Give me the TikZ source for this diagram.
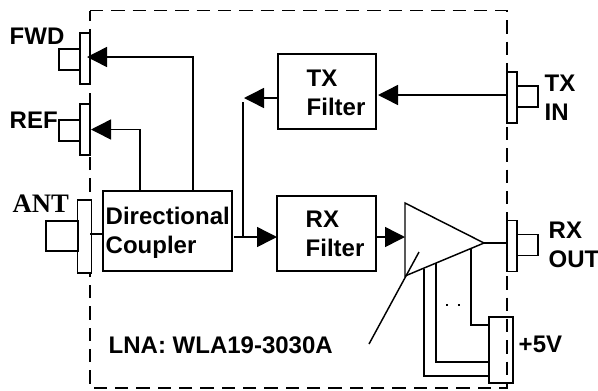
\documentclass[tikz,border=0pt]{standalone}
\usepackage{fontspec}
\setmainfont{Liberation Sans}
\newfontfamily\antfont{Liberation Serif}
\usetikzlibrary{arrows.meta}
\tikzset{
    block/.style 2 args={draw, line width=1.1pt, minimum width=#1*0.75pt, minimum height=#2*0.75pt, inner sep=0pt, outer sep=0pt},
    lbl/.style={font=\fontsize{18}{21.5}\selectfont\bfseries, align=left, anchor=west, inner sep=0pt},
    tip/.style={-{Triangle[length=15pt,width=15pt]}}
}
\begin{document}
\begin{tikzpicture}[x=0.75pt,y=-0.75pt,line width=1.1pt]
                    \useasboundingbox (0,0) rectangle (598,390);
                    \draw[dash pattern=on 10pt off 6pt] (90,10.5) -- (507,10.5) -- (507,388) -- (90,388) -- cycle;
                    \node[block={10}{51}] (fwdplate) at (85,58.5) {};
                    \node[block={21}{21}] (fwdnub) at (69.5,59.5) {};
                    \node[block={10}{51}] (refplate) at (85,129.5) {};
                    \node[block={21}{21}] (refnub) at (69.5,130.5) {};
                    \node[block={13.5}{73}, fill=white] (antplate) at (84.5,236.5) {};
                    \node[block={32}{30}] (antnub) at (62,236) {};
                    \node[block={10}{51}] (txplate) at (512,97.5) {};
                    \node[block={21}{21}] (txnub) at (527.5,96.5) {};
                    \node[block={10}{51}] (rxplate) at (512,246) {};
                    \node[block={21}{21}] (rxnub) at (527.5,245) {};
                    \node[block={129}{80}] (coupler) at (167.5,231) {};
                    \node[block={98}{75}] (txfilter) at (327,91.5) {};
                    \node[block={99}{75}] (rxfilter) at (326.5,233.5) {};
                    \node[block={24}{66}] (supply) at (501,350) {};
                    \coordinate (ampa) at (405,203);
                    \coordinate (ampb) at (405,276);
                    \coordinate (amptip) at (484,243);
                    \draw (ampa) -- (ampb) -- (amptip) -- cycle;
                    \coordinate (fwdtip) at (87,57);
                    \coordinate (fwdup) at (193,191);
                    \coordinate (reftip) at (91,129.5);
                    \coordinate (refup) at (140,191);
                    \coordinate (antin) at (90,234);
                    \coordinate (couplerout) at (234,237);
                    \coordinate (rxin) at (277,237);
                    \coordinate (branch) at (243,237);
                    \coordinate (branchtop) at (243,102);
                    \coordinate (txtip) at (244,98);
                    \coordinate (txfrom) at (277,98);
                    \coordinate (txin) at (507,95);
                    \coordinate (txfiltertip) at (378,95);
                    \coordinate (rxfrom) at (376,237);
                    \coordinate (ampin) at (405,237);
                    \coordinate (rxout) at (507,243);
                    \coordinate (slanta) at (369,344);
                    \coordinate (slantb) at (419,252);
                    \coordinate (biasa) at (424,269);
                    \coordinate (biasb) at (436,263);
                    \coordinate (biasc) at (471,248);
                    \coordinate (biasaend) at (489,376);
                    \coordinate (biasbend) at (489,362);
                    \coordinate (biascend) at (489,325);
                    \coordinate (dotsa) at (446,305);
                    \coordinate (dotsb) at (471,305);
                    \draw[tip] (fwdup) |- (fwdtip);
                    \draw[tip] (refup) |- (reftip);
                    \draw (antin) -- (coupler.west |- antin);
                    \draw[tip] (couplerout) -- (rxin);
                    \draw (branch) -- (branchtop);
                    \draw[tip] (txfrom) -- (txtip);
                    \draw[tip] (txin) -- (txfiltertip);
                    \draw[tip] (rxfrom) -- (ampin);
                    \draw (amptip) -- (rxout);
                    \draw (slanta) -- (slantb);
                    \draw (biasa) |- (biasaend);
                    \draw (biasb) |- (biasbend);
                    \draw (biasc) |- (biascend);
                    \draw[dash pattern=on 1.5pt off 7.5pt] (dotsa) -- (dotsb);
                    \node[lbl] (fwdlabel) at (9,36) {FWD};
                    \node[lbl] (reflabel) at (9,120) {REF};
                    \node[lbl, font=\fontsize{20}{22}\selectfont\bfseries\antfont] (antlabel) at (12,204) {ANT};
                    \node[lbl] (couplerlabel) at (105,233) {Directional\\Coupler};
                    \node[lbl] (txlabel) at (306,93) {TX\\Filter};
                    \node[lbl] (rxlabel) at (305,234) {RX\\Filter};
                    \node[lbl] (txinlabel) at (544,98) {TX\\IN};
                    \node[lbl] (rxoutlabel) at (548,245) {RX\\OUT};
                    \node[lbl] (lnalabel) at (108,345) {LNA: WLA19-3030A};
                    \node[lbl] (supplylabel) at (518,344) {+5V};
                \end{tikzpicture}
\end{document}
